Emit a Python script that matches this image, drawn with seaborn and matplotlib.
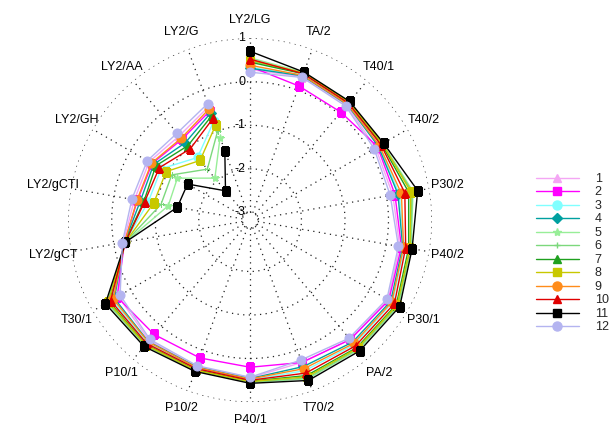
import numpy as np
import pandas as pd
import matplotlib
matplotlib.use("Agg")
import matplotlib.pyplot as plt
from matplotlib.lines import Line2D
import seaborn as sns

# Axis categories, clockwise from the top
categories = ["LY2/LG", "TA/2", "T40/1", "T40/2", "P30/2", "P40/2", "P30/1",
              "PA/2", "T70/2", "P40/1", "P10/2", "P10/1", "T30/1",
              "LY2/gCT", "LY2/gCTI", "LY2/GH", "LY2/AA", "LY2/G"]

s1 = [0.28, 0.33, 0.27, 0.15, 0.15, 0.31, 0.48, 0.40, 0.30, 0.44, 0.40, 0.43, 0.32, -0.22, -0.48, -0.50, -0.65, -0.40]
s2 = [0.35, 0.10, 0.06, 0.20, 0.20, 0.35, 0.50, 0.40, 0.30, 0.20, 0.19, 0.25, 0.35, -0.25, -0.55, -0.58, -0.75, -0.50]
s3 = [0.33, 0.37, 0.31, 0.24, 0.30, 0.42, 0.60, 0.55, 0.50, 0.49, 0.44, 0.50, 0.48, -0.26, -0.80, -0.82, -1.30, -0.75]
s4 = [0.31, 0.35, 0.29, 0.22, 0.27, 0.38, 0.55, 0.48, 0.40, 0.46, 0.41, 0.46, 0.42, -0.25, -0.62, -0.62, -0.86, -0.55]
s5 = [0.55, 0.43, 0.37, 0.34, 0.62, 0.58, 0.76, 0.70, 0.70, 0.55, 0.50, 0.58, 0.62, -0.28, -1.27, -1.25, -1.92, -1.16]
s6 = [0.48, 0.41, 0.36, 0.32, 0.60, 0.56, 0.74, 0.68, 0.68, 0.54, 0.49, 0.57, 0.60, -0.27, -1.10, -1.10, -1.65, -1.00]
s7 = [0.45, 0.40, 0.35, 0.31, 0.52, 0.52, 0.70, 0.64, 0.62, 0.52, 0.48, 0.55, 0.56, -0.26, -0.70, -0.68, -0.95, -0.62]
s8 = [0.50, 0.42, 0.36, 0.33, 0.57, 0.55, 0.72, 0.66, 0.65, 0.53, 0.49, 0.56, 0.58, -0.27, -0.93, -0.95, -1.39, -0.86]
s9 = [0.38, 0.36, 0.30, 0.25, 0.35, 0.40, 0.58, 0.52, 0.45, 0.47, 0.42, 0.47, 0.45, -0.25, -0.54, -0.56, -0.72, -0.45]
s10 = [0.52, 0.40, 0.33, 0.29, 0.43, 0.45, 0.65, 0.59, 0.56, 0.50, 0.45, 0.52, 0.52, -0.27, -0.72, -0.77, -1.04, -0.69]
s11 = [0.70, 0.44, 0.38, 0.36, 0.73, 0.60, 0.79, 0.74, 0.74, 0.57, 0.52, 0.61, 0.66, -0.27, -1.48, -1.52, -2.30, -1.48]
s12 = [0.22, 0.31, 0.24, 0.11, 0.09, 0.28, 0.45, 0.36, 0.24, 0.43, 0.38, 0.40, 0.27, -0.20, -0.42, -0.45, -0.57, -0.33]

series_names = ["1", "2", "3", "4", "5", "6", "7", "8", "9", "10", "11", "12"]
series_values = [s1, s2, s3, s4, s5, s6, s7, s8, s9, s10, s11, s12]
ring_values = [1, 0, -1, -2, -3]

colors = ["#F4A6F4", "#FF00FF", "#80FFFF", "#00A0A0", "#98EE98", "#7CD87C",
          "#1FA01F", "#C8C800", "#FF8C1A", "#E00000", "#000000", "#B4B4F0"]
markers = ["^", "s", "o", "D", "*", "+", "^", "s", "o", "^", "s", "o"]
msizes = [6, 6, 6.5, 5, 6, 5, 6, 6, 6.5, 6, 6, 6.5]

sns.set_theme(style="white")
plt.rcParams["font.family"] = ["Liberation Sans", "DejaVu Sans"]

r_min, r_max = -3.18, 1.0
n = len(categories)
angles = np.deg2rad(np.arange(n) * 360.0 / n)

rows = []
for name, vals in zip(series_names, series_values):
    for k, (cat, v) in enumerate(zip(categories, vals)):
        rows.append({"series": name, "category": cat, "order": k,
                     "theta": angles[k], "value": v})
df = pd.DataFrame(rows)

fig = plt.figure(figsize=(6.09, 4.25), dpi=100)
fig.patch.set_facecolor("white")
ax = fig.add_axes([0.1117, 0.054, 0.598, 0.856], projection="polar")
ax.set_theta_zero_location("N")
ax.set_theta_direction(-1)
ax.set_ylim(r_min, r_max)
ax.grid(False)
ax.set_xticks([])
ax.set_yticks([])
ax.spines["polar"].set_visible(False)
ax.set_facecolor("none")

# Dotted rings and spokes
dots = dict(color="#222222", lw=0.9, linestyle=(0, (1, 3.5)), zorder=1)
tt = np.linspace(0, 2 * np.pi, 400)
for v in ring_values:
    ax.plot(tt, np.full_like(tt, v), **dots)
for a in angles:
    ax.plot([a, a], [-3, r_max], **dots)

# Ring value labels along the top spoke
for v in ring_values:
    ax.annotate(str(v), xy=(0, v), xytext=(-3.5, 0), textcoords="offset points",
                ha="right", va="center", fontsize=9, color="black", zorder=5)

# Category labels around the outside
for a, cat in zip(angles, categories):
    ax.text(a, 1.42, cat, ha="center", va="center", fontsize=9, color="black")

# One closed polygon per series
handles = []
for name, c, m, ms in zip(series_names, colors, markers, msizes):
    sub = df[df["series"] == name].sort_values("order")
    closed = pd.concat([sub, sub.iloc[[0]]], ignore_index=True)
    sns.lineplot(data=closed, x="theta", y="value", sort=False, ax=ax,
                 color=c, lw=1.0, marker=m, markersize=ms,
                 markeredgecolor=c, markerfacecolor=c, legend=False, zorder=3)
    handles.append(Line2D([0], [0], color=c, lw=1.0, marker=m, markersize=ms,
                          markeredgecolor=c, markerfacecolor=c))
ax.set_xlabel("")
ax.set_ylabel("")
ax.set_ylim(r_min, r_max)

fig.legend(handles, series_names, loc="upper left", bbox_to_anchor=(0.872, 0.605),
           frameon=False, fontsize=9, handlelength=3.4, handletextpad=1.3,
           labelspacing=0.12, borderaxespad=0)

fig.savefig("out.png", dpi=100)
